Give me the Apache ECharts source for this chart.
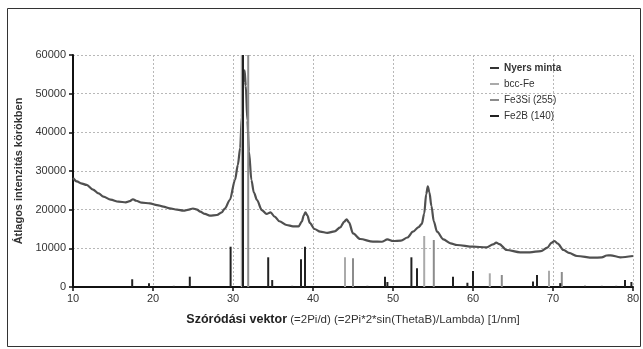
<!DOCTYPE html>
<html>
<head>
<meta charset="utf-8">
<script src="https://cdn.jsdelivr.net/npm/echarts@6/dist/echarts.min.js"></script>
<style>
  html, body { margin: 0; padding: 0; background: #fff; }
  #chart { width: 643px; height: 349px; }
</style>
</head>
<body>
<div id="chart"></div>
<script>
// measured curve (x in 1/nm, y in counts)
const curveX = [10.0, 10.5, 11.0, 11.7, 12.5, 13.2, 13.8, 14.7, 15.7, 16.6, 17.1, 17.5, 17.9, 18.6, 19.6,
  20.5, 21.3, 22.1, 23.0, 23.8, 24.5, 25.0, 25.5, 25.9, 26.5, 27.1, 28.0, 28.6, 29.0, 29.6,
  30.25, 30.6, 30.9, 31.1, 31.3, 31.45, 31.6, 31.8, 32.0, 32.3, 32.6, 33.0, 33.6, 34.2, 34.7, 35.2, 35.8, 36.7,
  37.5, 38.2, 38.6, 38.85, 39.05, 39.3, 39.6, 40.2, 40.9, 41.8, 42.7, 43.4, 43.9, 44.2, 44.5, 45.0, 45.9, 47.5, 48.6, 49.3, 50.0, 51.0,
  51.8, 52.5, 53.2, 53.6, 53.9, 54.15, 54.35, 54.55, 54.8, 55.1, 55.5, 56.3, 57.2, 58.0, 60.0, 61.7, 62.5, 62.9, 63.3, 64.2, 65.9, 67.1,
  68.5, 69.3, 69.8, 70.2, 70.6, 71.3, 72.0, 73.0, 75.0, 76.1, 76.7, 77.2, 78.4, 80.0];
const curveY = [28200, 27300, 26800, 26400, 25200, 24200, 23350, 22600, 22060, 21900, 22200, 22700, 22300, 21800, 21640,
  21200, 20800, 20350, 20000, 19730, 20000, 20300, 20000, 19480, 18900, 18440, 18620, 19300, 20350, 22500,
  27670, 31500, 36000, 44000, 53000, 56000, 52000, 43000, 35000, 27670, 24500, 22500, 19900, 18900, 19300, 18200, 17000, 16030,
  15700, 15700, 16900, 18500, 19300, 18500, 16600, 15000, 14300, 14000, 14400, 15400, 16900, 17500, 16700, 13880, 12410, 11720, 11700, 12300, 11900, 12000,
  12800, 14300, 15500, 16300, 19000, 24000, 26000, 24500, 21000, 17000, 14300, 12300, 11300, 10860, 10420, 10260, 11000, 11460, 11100, 9570, 8970, 8970,
  9300, 10200, 11400, 11900, 11200, 9600, 8800, 8020, 7580, 7650, 8150, 8200, 7680, 8020];

// reference sticks
const bccX = [31.1, 44.0, 53.9, 62.1, 69.5];
const bccY = [60000, 7680, 13190, 3540, 4220];
const fe3siX = [31.9, 45.0, 55.1, 63.6, 71.1];
const fe3siY = [60000, 7420, 12150, 3100, 3880];
const fe2bX = [17.4, 19.5, 22.6, 24.6, 29.7, 31.25, 34.4, 34.9, 37.4, 38.5, 39.0, 46.8, 49.0, 49.3, 52.3,
  53.0, 57.5, 59.3, 60.0, 67.5, 68.0, 70.9, 74.0, 76.1, 77.9, 79.0, 79.8];
const fe2bY = [2000, 950, 300, 2670, 10420, 60000, 7680, 1800, 300, 7160, 10420, 300, 2670, 1300, 7680,
  4830, 2670, 1100, 4140, 1400, 3100, 1000, 300, 300, 300, 1800, 1300];

const legendNames = ['Nyers minta', 'bcc-Fe', 'Fe3Si (255)', 'Fe2B (140)'];

const zip = (xs, ys) => xs.map((x, i) => [x, ys[i]]);

const chart = echarts.init(document.getElementById('chart'));

const gridStyle = { show: true, lineStyle: { color: '#b8b8b8', type: [2, 2], width: 1 } };

const stick = (name, xs, ys, color, width) => ({
  name: name,
  type: 'bar',
  data: zip(xs, ys),
  barWidth: width,
  barGap: '-100%',
  itemStyle: { color: color },
  clip: true,
  silent: true
});

chart.setOption({
  animation: false,
  textStyle: { fontFamily: 'Liberation Sans, Arial, sans-serif' },
  grid: { left: 73, right: 10, top: 55, bottom: 62 },
  legend: {
    orient: 'vertical',
    left: 485,
    top: 58,
    itemGap: 6,
    itemWidth: 9,
    itemHeight: 2,
    textStyle: { fontSize: 10, color: '#333' },
    data: [
      { name: legendNames[0], icon: 'rect', textStyle: { fontWeight: 'bold' } },
      { name: legendNames[1], icon: 'rect' },
      { name: legendNames[2], icon: 'rect' },
      { name: legendNames[3], icon: 'rect' }
    ]
  },
  xAxis: {
    type: 'value',
    min: 10, max: 80, interval: 10,
    axisLine: { show: true, onZero: false, lineStyle: { color: '#111', width: 2 } },
    axisTick: { show: true, length: 4, lineStyle: { color: '#111', width: 1.5 } },
    axisLabel: { fontSize: 11, color: '#333', margin: 6 },
    splitLine: gridStyle,
    name: '{b|Szóródási vektor}{n| (=2Pi/d) (=2Pi*2*sin(ThetaB)/Lambda) [1/nm]}',
    nameLocation: 'middle',
    nameGap: 26,
    nameTextStyle: {
      rich: {
        b: { fontSize: 12.5, fontWeight: 'bold', color: '#222' },
        n: { fontSize: 11.5, color: '#333' }
      }
    }
  },
  yAxis: {
    type: 'value',
    min: 0, max: 60000, interval: 10000,
    axisLine: { show: true, lineStyle: { color: '#111', width: 2 } },
    axisTick: { show: true, length: 4, lineStyle: { color: '#111', width: 1.5 } },
    axisLabel: { fontSize: 11, color: '#333', margin: 7, formatter: v => String(v) },
    splitLine: gridStyle,
    name: 'Átlagos intenzitás körökben',
    nameLocation: 'middle',
    nameGap: 46,
    nameTextStyle: { fontSize: 11, fontWeight: 'bold', color: '#333' }
  },
  series: [
    stick(legendNames[1], bccX, bccY, '#aaaaaa', 2),
    stick(legendNames[2], fe3siX, fe3siY, '#8c8c8c', 2),
    stick(legendNames[3], fe2bX, fe2bY, '#222222', 2),
    {
      name: legendNames[0],
      type: 'line',
      data: zip(curveX, curveY),
      smooth: 0.3,
      smoothMonotone: 'x',
      showSymbol: false,
      symbol: 'none',
      lineStyle: { color: '#505050', width: 2.2 },
      itemStyle: { color: '#333' },
      z: 1
    }
  ],
  graphic: [
    {
      type: 'rect',
      shape: { x: 7.5, y: 8.5, width: 633, height: 338 },
      style: { fill: 'none', stroke: '#333', lineWidth: 1 },
      silent: true
    }
  ]
});
</script>
</body>
</html>
